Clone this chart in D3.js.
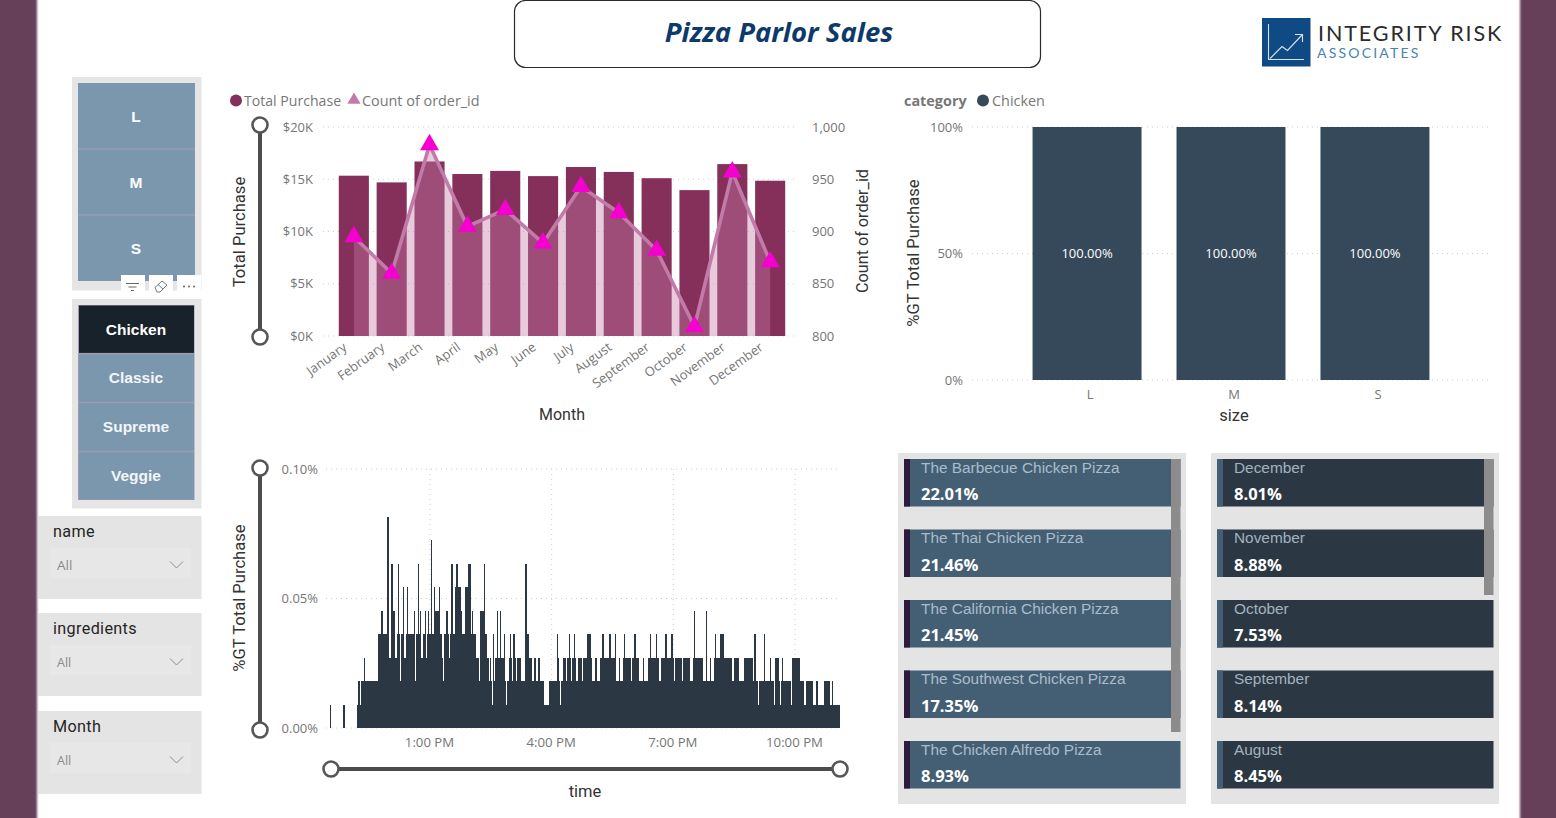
<!DOCTYPE html>
<html><head><meta charset="utf-8">
<script src="https://cdn.jsdelivr.net/npm/d3@7"></script>
<style>
html,body{margin:0;padding:0;background:#fff;overflow:hidden}
svg{display:block}
text{font-family:"Open Sans",sans-serif}
.din{font-family:Roboto,sans-serif}
.lato{font-family:Lato,sans-serif}
.arial{font-family:"Liberation Sans",Arial,sans-serif}
.grid{stroke:#cfcfcf;stroke-width:1;stroke-dasharray:1 4;fill:none}
</style></head><body>
<svg id="c" width="1556" height="818"></svg>
<script>
// ---- data ----
const months=["January","February","March","April","May","June","July","August","September","October","November","December"];
const totalPurchase=[15340,14700,16700,15500,15800,15300,16170,15700,15100,13960,16450,14860];
const orderCount=[895,860,983,905,921,889,943,918,882,809,957,871];
const purchaseTicks=[0,5000,10000,15000,20000];
const orderTicks=[800,850,900,950,1000];
const sizes=["L","M","S"];
const sizeShare=[100,100,100];
const shareTicks=[0,50,100];
const categories=["Chicken","Classic","Supreme","Veggie"];
const selectedCategory="Chicken";
const dropdowns=["name","ingredients","Month"];
const pizzaNames=["The Barbecue Chicken Pizza","The Thai Chicken Pizza","The California Chicken Pizza","The Southwest Chicken Pizza","The Chicken Alfredo Pizza"];
const pizzaShares=["22.01%","21.46%","21.45%","17.35%","8.93%"];
const monthCardNames=["December","November","October","September","August"];
const monthCardShares=["8.01%","8.88%","7.53%","8.14%","8.45%"];
const timeTickHours=[13,16,19,22];
const timeShareTicks=[0,0.05,0.10];
const shareStep=0.00905; // one order's share of the total, in percent
// order-share level for each 90 second slot from 10:30 AM
const timeLevels=[
0,1,0,0,0,0,0,0,0,0, 0,0,0,0,1,1,0,0,0,0, 0,0,0,0,0,0,0,0,1,2,
2,1,2,2,2,3,2,2,2,2, 2,2,2,2,2,2,2,1,2,4, 4,4,5,4,4,3,4,4,9,2,
3,3,7,5,5,3,3,4,7,4, 2,4,4,6,3,3,4,6,4,4, 4,4,4,4,5,2,4,4,7,4,
5,3,3,4,4,5,3,4,5,4, 4,8,4,4,6,5,5,5,5,6, 4,3,2,2,4,4,5,4,3,3,
4,7,4,4,4,6,7,6,2,6, 5,4,4,4,4,6,6,7,7,7, 4,5,4,4,4,3,3,3,2,5,
5,5,5,7,4,4,3,3,2,3, 2,1,4,2,3,3,5,3,3,5, 3,3,3,4,2,1,2,2,3,4,
3,2,4,3,2,2,3,2,3,2, 2,2,2,2,7,3,4,3,3,3, 2,2,2,3,2,2,2,3,2,2,
2,2,1,1,1,1,1,2,2,2, 2,2,2,2,2,4,3,2,1,2, 2,3,3,3,2,3,3,4,3,2,
3,3,4,3,2,2,3,3,3,3, 2,3,3,3,3,4,4,4,3,2, 2,2,2,3,2,2,2,2,3,3,
4,3,2,3,3,3,3,4,3,3, 3,3,4,2,2,2,3,2,2,2, 3,4,3,3,3,3,3,3,2,3,
3,4,4,3,3,3,2,2,2,2, 3,2,2,2,2,3,3,4,3,3, 3,3,3,4,3,3,2,2,3,3,
3,3,4,3,3,3,3,3,4,3, 2,2,3,3,3,3,2,3,2,2, 3,3,3,3,3,3,2,2,2,3,
5,3,3,3,3,3,3,3,3,2, 2,2,5,2,2,2,3,2,2,2, 3,4,3,3,3,3,4,4,4,4,
3,3,3,3,3,3,3,3,2,2, 3,3,3,3,2,2,2,2,2,2, 3,3,3,3,3,3,3,3,2,2,
4,2,2,1,2,2,2,2,2,4, 2,2,2,2,2,3,2,2,2,1, 3,3,3,3,2,1,2,3,2,2,
2,2,2,2,2,2,1,3,3,3, 3,3,3,3,3,2,2,2,2,1, 1,2,2,2,2,2,2,1,1,1,
1,2,1,1,1,1,1,1,1,2, 2,2,2,2,1,1,2,1,1,1, 1,1,1,1];

const svg=d3.select("#c");
const defs=svg.append("defs");
defs.append("filter").attr("id","soft").append("feGaussianBlur").attr("stdDeviation",1);
const R=(x,y,w,h,f,p=svg)=>p.append("rect").attr("x",x).attr("y",y).attr("width",w).attr("height",h).attr("fill",f);
const T=(x,y,s,o={},p=svg)=>{const t=p.append("text").attr("x",x).attr("y",y).attr("dominant-baseline","central").text(s);
  Object.entries(o).forEach(([k,v])=>{ if(k==="cls") t.attr("class",v); else if(k==="anchor") t.attr("text-anchor",v); else if(k==="rot") t.attr("transform",`rotate(${v} ${x} ${y})`); else t.style(k,v);});return t;};

// page frame
R(-4,-4,41,826,"#654058").attr("filter","url(#soft)");
R(1520,-4,40,826,"#654058").attr("filter","url(#soft)");

// title
svg.append("rect").attr("x",514.5).attr("y",0.5).attr("width",526).attr("height",67).attr("rx",11).attr("fill","#fff").attr("stroke","#2a2a2a").attr("stroke-width",1.2);
T(779,31,"Pizza Parlor Sales",{"font-size":"27.5px","font-weight":700,"font-style":"italic",fill:"#0d3a6b",anchor:"middle"});

// logo
R(1262,18,48.5,48.5,"#0f4a84");
svg.append("path").attr("d","M1268.5 24V59.5H1304M1270 58.5L1282 46.5L1287.5 50.5L1302 35M1295 34.5H1302.5V42").attr("fill","none").attr("stroke","#d5e3ef").attr("stroke-width",1.1);
T(1318,33,"INTEGRITY RISK",{"font-size":"21.5px",fill:"#2b2b2b","letter-spacing":"1.9px",cls:"lato"});
T(1317,52.5,"ASSOCIATES",{"font-size":"14px",fill:"#4a83b0","letter-spacing":"2.2px",cls:"lato"});

// size slicer
R(72,77,129.5,213.5,"#e5e5e5");
sizes.forEach((s,i)=>{
  R(78,83+i*66,117,66,"#7b97ae");
  if(i) R(78,83+i*66-.5,117,1,"#a49fb3");
  T(136,116+i*66,s,{cls:"arial","font-size":"15.5px","font-weight":700,fill:"#fff",anchor:"middle"});
});
// visual header icons
[121,149,177].forEach(x=>R(x,275,24,20,"#fff"));
svg.append("path").attr("d","M126 283.5H139M128.5 287H136.5M131 290.5H134").attr("stroke","#666").attr("fill","none");
svg.append("path").attr("d","M155 287.5L162 281L167 285L160 292L157 292ZM158 284.5L163 289").attr("stroke","#777").attr("fill","none");
[184,189,194].forEach(x=>svg.append("circle").attr("cx",x).attr("cy",286.5).attr("r",1).attr("fill","#666"));

// category slicer
R(72,299,129.5,209.5,"#e5e5e5");
R(78,305,116.5,195,"#9e9cae");
categories.forEach((s,i)=>{
  const y=305+i*48.9;
  R(79,y+.5,115,47.4,s===selectedCategory?"#18222a":"#7b97ae");
  T(136,y+24,s,{cls:"arial","font-size":"15.5px","font-weight":700,fill:s===selectedCategory?"#fff":"#f2f6f9",anchor:"middle"});
});

// dropdown slicers
dropdowns.forEach((s,i)=>{
  const y=[516,613,711][i];
  R(38,y,163.5,83,"#e4e4e4");
  R(50,y+32,141,30,"#e7e7e7");
  T(53,y+15,s,{cls:"din","font-size":"16.2px",fill:"#252525","letter-spacing":".35px"});
  T(57,y+49,"All",{"font-size":i?"12.5px":"13.5px",fill:"#8a8a8a"});
  svg.append("path").attr("d",`M170 ${y+45.5}L176.5 ${y+52}L183 ${y+45.5}`).attr("fill","none").attr("stroke","#8f8f8f");
});

// helpers for slider
function slider(x1,y1,x2,y2){
  svg.append("line").attr("x1",x1).attr("y1",y1).attr("x2",x2).attr("y2",y2).attr("stroke","#4c4c4c").attr("stroke-width",4);
  [[x1,y1],[x2,y2]].forEach(p=>svg.append("circle").attr("cx",p[0]).attr("cy",p[1]).attr("r",7.5).attr("fill","#fff").attr("stroke","#565656").attr("stroke-width",2.6));
}
function styleAxis(g,size="13px"){g.select(".domain").remove();g.selectAll("line").remove();
  g.selectAll("text").style("font-family",'"Open Sans",sans-serif').style("font-size",size).attr("fill","#757575");}

// ---- combo chart ----
const xM=d3.scaleBand().domain(months).range([335,789]).paddingInner(.205).paddingOuter(.1);
const yP=d3.scaleLinear().domain([0,20000]).range([336,127]);
const yC=d3.scaleLinear().domain([800,1000]).range([336,127]);
const mid=m=>xM(m)+xM.bandwidth()/2;
const combo=svg.append("g");
purchaseTicks.forEach(t=>combo.append("line").attr("class","grid").attr("x1",323).attr("x2",796).attr("y1",yP(t)).attr("y2",yP(t)));
combo.selectAll("rect.bar").data(months).join("rect").attr("class","bar").attr("x",m=>xM(m)).attr("width",xM.bandwidth())
  .attr("y",(m,i)=>yP(totalPurchase[i])).attr("height",(m,i)=>yP(0)-yP(totalPurchase[i])).attr("fill","#85305a");
combo.append("path").datum(months).attr("fill","#c27ba8").attr("fill-opacity",.4)
  .attr("d",d3.area().x(mid).y0(yC(800)).y1((m,i)=>yC(orderCount[i])));
combo.append("path").datum(months).attr("fill","none").attr("stroke","#c27ba8").attr("stroke-width",3.6)
  .attr("d",d3.line().x(mid).y((m,i)=>yC(orderCount[i])));
const tri=d3.symbol().type(d3.symbolTriangle).size(155);
combo.selectAll("path.mk").data(months).join("path").attr("class","mk").attr("d",tri)
  .attr("transform",(m,i)=>`translate(${mid(m)},${yC(orderCount[i])})`).attr("fill","#f500d0");
combo.append("g").attr("transform","translate(316,0)")
  .call(d3.axisLeft(yP).tickValues(purchaseTicks).tickSize(0).tickPadding(3).tickFormat(d=>"$"+d/1000+"K")).call(styleAxis);
combo.append("g").attr("transform","translate(809,0)")
  .call(d3.axisRight(yC).tickValues(orderTicks).tickSize(0).tickPadding(3).tickFormat(d3.format(","))).call(styleAxis);
const mAxis=combo.append("g").attr("transform","translate(0,345)").call(d3.axisBottom(xM).tickSize(0).tickPadding(0)).call(g=>styleAxis(g,"13px"));
mAxis.selectAll("text").attr("text-anchor","end").attr("dy",0).attr("dominant-baseline","central").attr("transform","translate(-9,0) rotate(-36)");
slider(260,125,260,337);
T(239,232,"Total Purchase",{cls:"din","font-size":"16.6px",fill:"#333",anchor:"middle",rot:-90});
T(862,231,"Count of order_id",{cls:"din","font-size":"16.2px",fill:"#333",anchor:"middle",rot:-90});
T(562,414,"Month",{cls:"din","font-size":"16px",fill:"#333",anchor:"middle"});
svg.append("circle").attr("cx",236).attr("cy",100.5).attr("r",6).attr("fill","#85305a");
T(244,100,"Total Purchase",{"font-size":"14.1px",fill:"#777"});
svg.append("path").attr("d",d3.symbol().type(d3.symbolTriangle).size(75)).attr("transform","translate(354,100)").attr("fill","#c27ba8");
T(362,100,"Count of order_id",{"font-size":"14.4px",fill:"#777"});

// ---- 100% column chart ----
const xS=d3.scaleBand().domain(sizes).range([1015,1447]).paddingInner(.243).paddingOuter(.122);
const yS=d3.scaleLinear().domain([0,100]).range([380,127]);
shareTicks.forEach(t=>svg.append("line").attr("class","grid").attr("x1",972).attr("x2",1492).attr("y1",yS(t)).attr("y2",yS(t)));
svg.selectAll("rect.sz").data(sizes).join("rect").attr("class","sz").attr("x",s=>xS(s)).attr("width",xS.bandwidth())
  .attr("y",(s,i)=>yS(sizeShare[i])).attr("height",(s,i)=>yS(0)-yS(sizeShare[i])).attr("fill","#36495a");
sizes.forEach((s,i)=>T(xS(s)+xS.bandwidth()/2,253,sizeShare[i].toFixed(2)+"%",{"font-size":"13px",fill:"#fff",anchor:"middle"}));
svg.append("g").attr("transform","translate(966,0)")
  .call(d3.axisLeft(yS).tickValues(shareTicks).tickSize(0).tickPadding(3).tickFormat(d=>d+"%")).call(styleAxis);
svg.append("g").attr("transform","translate(3,390)").call(d3.axisBottom(xS).tickSize(0).tickPadding(0)).call(styleAxis);
T(1234,415.5,"size",{cls:"din","font-size":"16.5px",fill:"#333",anchor:"middle"});
T(913,253,"%GT Total Purchase",{cls:"din","font-size":"16.6px",fill:"#333",anchor:"middle",rot:-90});
T(904,100,"category",{"font-size":"14.4px","font-weight":700,fill:"#777"});
svg.append("circle").attr("cx",983).attr("cy",100.5).attr("r",6).attr("fill","#36495a");
T(992,100,"Chicken",{"font-size":"14.4px",fill:"#777"});

// ---- time chart ----
const at=(h,m=0,s=0)=>new Date(2024,0,1,h,m,s);
const xT=d3.scaleTime().domain([at(13),at(22)]).range([430,795]);
const yT=d3.scaleLinear().domain([0,0.1]).range([728,469]);
timeShareTicks.forEach(t=>svg.append("line").attr("class","grid").attr("x1",326).attr("x2",841).attr("y1",yT(t)).attr("y2",yT(t)));
timeTickHours.forEach(h=>svg.append("line").attr("class","grid").attr("x1",xT(at(h))).attr("x2",xT(at(h))).attr("y1",469).attr("y2",728));
const slot=i=>at(10,30,i*90);
svg.append("g").attr("shape-rendering","crispEdges").selectAll("rect").data(timeLevels).join("rect")
  .attr("x",(d,i)=>xT(slot(i))).attr("width",(d,i)=>(xT(slot(i+1))-xT(slot(i)))*1.35)
  .attr("y",d=>yT(d*shareStep)).attr("height",d=>yT(0)-yT(d*shareStep)).attr("fill","#2b3843");
svg.append("g").attr("transform","translate(318,0)")
  .call(d3.axisLeft(yT).tickValues(timeShareTicks).tickSize(0).tickPadding(0).tickFormat(d=>d.toFixed(2)+"%")).call(styleAxis);
svg.append("g").attr("transform","translate(-1,738)")
  .call(d3.axisBottom(xT).tickValues(timeTickHours.map(h=>at(h))).tickSize(0).tickPadding(0).tickFormat(d3.timeFormat("%-I:%M %p"))).call(g=>styleAxis(g,"13.2px"));
slider(260,468,260,730);
slider(331,769,840,769);
T(239,598,"%GT Total Purchase",{cls:"din","font-size":"16.6px",fill:"#333",anchor:"middle",rot:-90});
T(585,791,"time",{cls:"din","font-size":"16.5px",fill:"#333",anchor:"middle"});

// ---- card lists ----
function cards(px,names,vals,fill,accent,nameFill,barH){
  R(px,453,288,351,"#e4e4e4");
  const ys=[459,529.5,600,670.5,741];
  names.forEach((n,i)=>{
    R(px+6,ys[i],276.5,47.5,fill);
    R(px+6,ys[i],6,47.5,accent);
    T(px+23,ys[i]+8,n,{cls:"arial","font-size":"15.4px",fill:nameFill});
    T(px+23,ys[i]+34.5,vals[i],{"font-size":"16.5px","font-weight":700,fill:"#fff"});
  });
  R(px+273,459,9.5,barH,"#8c8c8c");
}
cards(898,pizzaNames,pizzaShares,"#445f74","#2e1a3a","#a9bccb",273);
cards(1211,monthCardNames,monthCardShares,"#2b3843","#445f74","#a3b2bf",136);
</script>
</body></html>
